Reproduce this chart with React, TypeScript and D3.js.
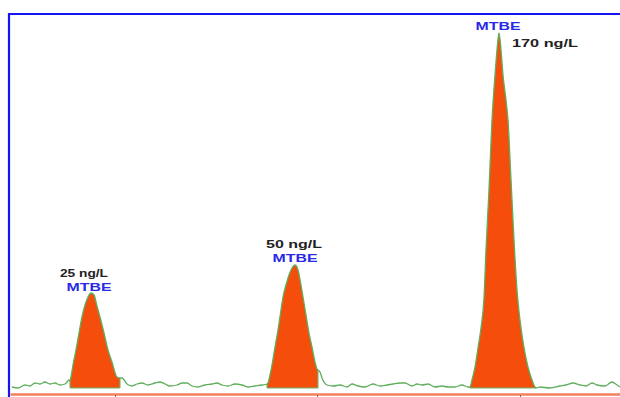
import React, { useRef, useEffect } from 'react';
import * as d3 from 'd3';

// chromatogram trace: [scan, detector response]
const trace: [number, number][] = [
  [2, 6], [8, 5], [15, 8], [20, 7], [25, 10], [30, 9], [35, 11], [40, 9], [45, 10], [50, 8], [55, 9], [59, 13],
  [60, 12], [61, 16], [63, 28], [66, 43], [69, 60], [72, 76], [75, 88], [78, 96], [81, 100], [84, 98], [87, 87],
  [90, 76], [94, 60], [98, 43], [102, 31], [107, 16], [110, 15],
  [112, 15], [117, 9], [122, 7], [127, 9], [132, 10], [138, 8], [145, 10], [150, 11], [155, 9], [160, 7], [167, 8],
  [172, 10], [177, 10], [182, 7], [188, 6], [195, 8], [202, 9], [207, 10], [212, 8], [218, 7], [225, 9], [232, 8],
  [238, 6], [245, 7], [252, 8], [257, 9],
  [258, 10], [260, 18], [262, 28], [265, 46], [268, 63], [271, 83], [273, 96], [276, 108], [279, 118], [282, 125],
  [285, 128], [288, 123], [291, 108], [293, 96], [296, 78], [299, 60], [302, 46], [305, 31], [307, 24], [308, 23],
  [310, 21], [312, 15], [317, 8], [323, 7], [330, 8], [337, 6], [342, 9], [348, 7], [355, 6], [363, 9], [370, 7],
  [377, 8], [383, 9], [390, 10], [395, 10], [402, 7], [407, 9], [412, 8], [418, 9], [425, 6], [432, 7], [438, 6],
  [445, 6], [452, 8], [458, 6], [460, 6],
  [462, 13], [465, 26], [468, 45], [471, 65], [474, 95], [476, 143], [479, 203], [482, 273], [485, 318], [487, 343],
  [489, 360], [491, 343], [493, 318], [496, 293], [498, 273], [501, 213], [504, 153], [507, 103], [510, 73],
  [512, 58], [515, 40], [518, 26], [522, 13], [526, 5],
  [530, 6], [540, 5], [550, 7], [556, 8], [563, 10], [570, 8], [576, 7], [582, 10], [587, 8], [595, 7], [602, 11],
  [607, 8], [610, 6],
];

const peakStart = [60, 257, 460];
const peakEnd = [110, 308, 526];
const peakCompound = ['MTBE', 'MTBE', 'MTBE'];
const peakConc = ['25 ng/L', '50 ng/L', '170 ng/L'];
const tickScans = [105, 307, 510];
const baselineLevel = 5;

const W = 620;
const H = 397;

export default function App() {
  const svgRef = useRef<SVGSVGElement>(null);

  useEffect(() => {
    const svg = d3.select(svgRef.current);
    svg.selectAll('*').remove();

    const x = d3.scaleLinear().domain([0, 610]).range([10, 620]);
    const y = d3.scaleLinear().domain([0, 380]).range([393, 13]);

    // frame (left + top only)
    svg.append('path')
      .attr('d', `M9,${H} V14 H${W}`)
      .attr('fill', 'none')
      .attr('stroke', '#1414f5')
      .attr('stroke-width', 2.2);

    // x axis
    const axis = svg.append('g')
      .attr('transform', `translate(0,${y(0) + 1})`)
      .call(d3.axisBottom(x).tickValues(tickScans).tickSize(3).tickSizeOuter(0).tickFormat(() => ''));
    axis.select('.domain').attr('stroke', '#f47f5c').attr('stroke-width', 2.4);
    axis.selectAll('.tick line').attr('stroke', '#8a6a60').attr('stroke-width', 1).attr('transform', 'translate(0,1)');

    const area = d3.area<[number, number]>()
      .x(d => x(d[0]))
      .y0(y(baselineLevel))
      .y1(d => y(d[1]))
      .curve(d3.curveMonotoneX);
    const line = d3.line<[number, number]>()
      .x(d => x(d[0]))
      .y(d => y(d[1]))
      .curve(d3.curveMonotoneX);

    peakStart.forEach((s, i) => {
      const pts = trace.filter(d => d[0] >= s && d[0] <= peakEnd[i]);
      svg.append('path')
        .attr('d', area(pts))
        .attr('fill', '#f54d0c')
        .attr('stroke', 'none');
      svg.append('path')
        .attr('d', `M${x(s)},${y(baselineLevel)} V${y(pts[0][1])} M${x(peakEnd[i])},${y(baselineLevel)} V${y(pts[pts.length - 1][1])} M${x(s)},${y(baselineLevel)} H${x(peakEnd[i])}`)
        .attr('fill', 'none')
        .attr('stroke', '#6db86a')
        .attr('stroke-width', 1.1);
    });

    svg.append('path')
      .attr('d', line(trace))
      .attr('fill', 'none')
      .attr('stroke', '#5fae5c')
      .attr('stroke-width', 1.3)
      .attr('stroke-linejoin', 'round');

    // peak labels
    const labelPos = [
      { conc: [-7, -16, 'middle', 48], name: [-2, -2] },
      { conc: [-1, -17, 'middle', 56], name: [0, -3] },
      { conc: [13, 14, 'start', 66], name: [-1, -3] },
    ];
    peakStart.forEach((s, i) => {
      const pts = trace.filter(d => d[0] >= s && d[0] <= peakEnd[i]);
      const apex = pts.reduce((a, b) => (b[1] > a[1] ? b : a));
      const ax = x(apex[0]);
      const ay = y(apex[1]);
      const lp = labelPos[i];
      svg.append('text')
        .attr('x', ax + (lp.conc[0] as number))
        .attr('y', ay + (lp.conc[1] as number))
        .attr('text-anchor', lp.conc[2] as string)
        .attr('textLength', lp.conc[3] as number)
        .attr('lengthAdjust', 'spacingAndGlyphs')
        .attr('font-family', 'Liberation Sans, Arial, sans-serif')
        .attr('font-size', 10)
        .attr('font-weight', 'bold')
        .attr('fill', '#222')
        .text(peakConc[i]);
      svg.append('text')
        .attr('x', ax + lp.name[0])
        .attr('y', ay + lp.name[1])
        .attr('text-anchor', 'middle')
        .attr('textLength', 45)
        .attr('lengthAdjust', 'spacingAndGlyphs')
        .attr('font-family', 'Liberation Sans, Arial, sans-serif')
        .attr('font-size', 10)
        .attr('font-weight', 'bold')
        .attr('fill', '#2a2ae6')
        .text(peakCompound[i]);
    });
  }, []);

  return (
    <svg
      ref={svgRef}
      width={W}
      height={H}
      style={{ position: 'absolute', left: 0, top: 0, display: 'block', background: '#fff' }}
    />
  );
}
